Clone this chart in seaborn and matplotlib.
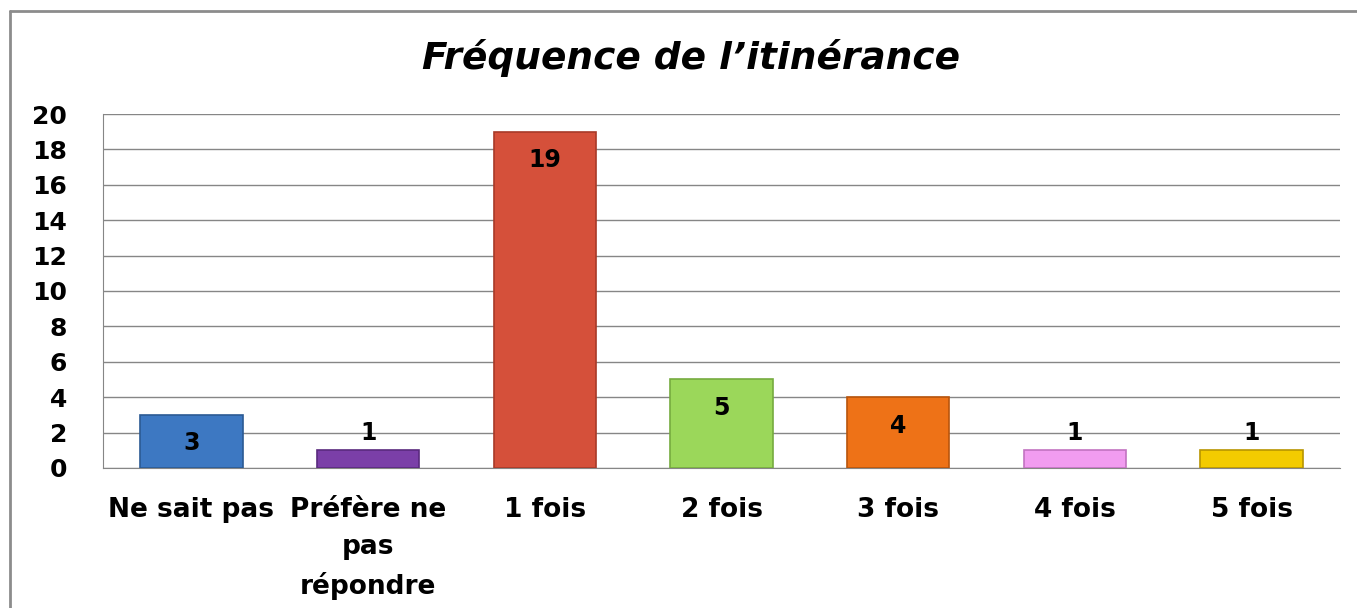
import matplotlib
matplotlib.use("Agg")
import matplotlib.pyplot as plt
import seaborn as sns
import pandas as pd
from matplotlib.lines import Line2D

categories = ["Ne sait pas", "Préfère ne\npas\nrépondre", "1 fois", "2 fois", "3 fois", "4 fois", "5 fois"]
values = [3, 1, 19, 5, 4, 1, 1]
colors = ["#3d78c2", "#7b3fa8", "#d5503a", "#9bd75a", "#ee7217", "#f19cf0", "#f3cb00"]
edges = ["#2b5a94", "#5a2a7e", "#a83a28", "#76ab3f", "#b8540c", "#c273c1", "#b89500"]
yticks = [0, 2, 4, 6, 8, 10, 12, 14, 16, 18, 20]

sns.set_style("white")
plt.rcParams['font.family'] = ['DejaVu Sans']
plt.rcParams['text.color'] = 'black'
plt.rcParams['xtick.color'] = 'black'
plt.rcParams['ytick.color'] = 'black'

df = pd.DataFrame({"cat": categories, "val": values})

fig = plt.figure(figsize=(13.57, 6.08), dpi=100)
ax = fig.add_axes([0.0759, 0.2303, 0.9116, 0.5822])

sns.barplot(data=df, x="cat", y="val", hue="cat", palette=colors, legend=False,
            width=0.58, ax=ax, saturation=1)
for bar, ec in zip(ax.patches, edges):
    bar.set_edgecolor(ec)
    bar.set_linewidth(1.2)
    bar.set_zorder(3)

ax.set_ylim(0, 20)
ax.set_yticks(yticks)
ax.yaxis.grid(True, color="#868686", linewidth=1)
ax.set_axisbelow(True)
for s in ["top", "right"]:
    ax.spines[s].set_visible(False)
ax.spines["left"].set_color("#868686")
ax.spines["bottom"].set_color("#868686")
ax.tick_params(axis="y", length=0, labelsize=18, pad=26)
ax.tick_params(axis="x", length=0, labelsize=19, pad=21)
for lab in ax.get_xticklabels() + ax.get_yticklabels():
    lab.set_fontweight("bold")
for lab in ax.get_xticklabels():
    lab.set_linespacing(1.55)
    lab.set_verticalalignment("top")
ax.set_xlabel("")
ax.set_ylabel("")

# value labels: inside the taller bars, above the short ones
for bar, v in zip(ax.patches, values):
    x = bar.get_x() + bar.get_width() / 2
    if v >= 3:
        ax.text(x, v - 1.6, str(v), ha="center", va="center", fontsize=17, fontweight="bold", zorder=4)
    else:
        ax.text(x, v + 1.0, str(v), ha="center", va="center", fontsize=17, fontweight="bold", zorder=4)

fig.text(0.509, 0.905, "Fréquence de l’itinérance", ha="center", va="center",
         fontsize=27, fontweight="bold", fontstyle="oblique", family="DejaVu Sans")

# outer chart frame
fig.add_artist(Line2D([10 / 1357, 10 / 1357], [0, 1 - 11 / 608], transform=fig.transFigure,
                      color="#8c8c8c", linewidth=2))
fig.add_artist(Line2D([10 / 1357, 1], [1 - 11 / 608, 1 - 11 / 608], transform=fig.transFigure,
                      color="#8c8c8c", linewidth=2))

fig.savefig("out.png", dpi=100)
